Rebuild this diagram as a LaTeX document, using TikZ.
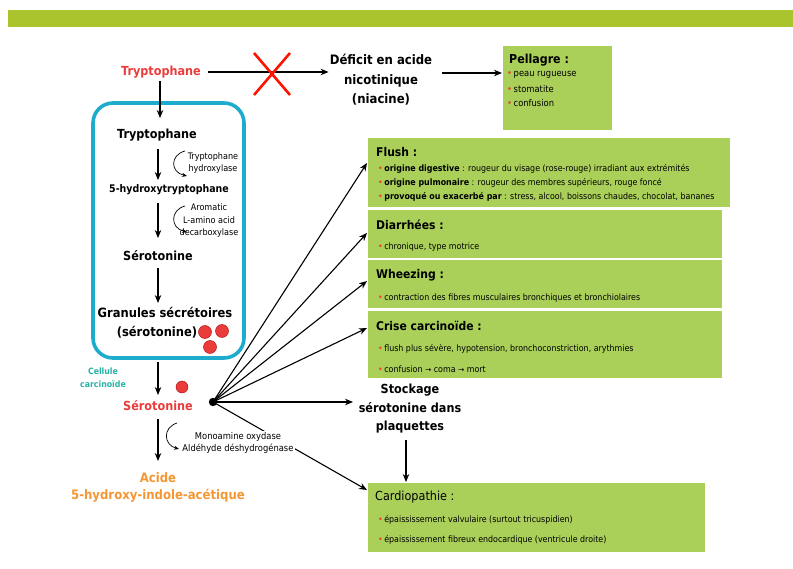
\documentclass[tikz,border=0pt]{standalone}
\usepackage{fontspec}
\setmainfont{DejaVu Sans Condensed}
\newfontfamily\arrowfont{DejaVu Sans}
\usetikzlibrary{arrows.meta}
\definecolor{banner}{RGB}{170,196,45}
\definecolor{boxgreen}{RGB}{170,208,90}
\definecolor{cellcyan}{RGB}{30,172,205}
\definecolor{tealtxt}{RGB}{40,178,165}
\definecolor{redtxt}{RGB}{235,60,60}
\definecolor{orangetxt}{RGB}{245,150,50}
\definecolor{bulletred}{RGB}{235,60,50}
\newcommand{\bl}{{\color{bulletred}\textbullet}\,}
\newcommand{\rarr}{{\arrowfont\fontsize{7.5}{9}\selectfont→}}
\tikzset{
  x=1pt, y=-1pt,
  arr/.style={-{Stealth[length=8pt,width=6.5pt]}, line width=1.1pt},
  gbox/.style={fill=boxgreen, draw=white, line width=0.6pt, inner sep=0pt, anchor=north west},
  bigtxt/.style={font=\fontsize{12.5}{15}\selectfont\bfseries, inner sep=1pt, align=center},
  smtxt/.style={font=\fontsize{9}{12.5}\selectfont, inner sep=0.5pt, align=center},
  boxtitle/.style={font=\fontsize{12}{14}\selectfont\bfseries, anchor=west, inner sep=0pt},
  boxline/.style={font=\fontsize{8.8}{10}\selectfont, anchor=west, inner sep=0pt},
  granule/.style={circle, fill=redtxt, draw=red!70!black, line width=0.4pt, minimum size=13pt, inner sep=0pt},
  curv/.style={-{Stealth[length=5pt,width=4pt]}, line width=0.7pt},
}
\begin{document}
\begin{tikzpicture}
\useasboundingbox (0,0) rectangle (793,569);
% banner
\fill[banner] (8,10) rectangle (793,27);

% top row
\node[bigtxt, text=redtxt] (trp0) at (161,72) {Tryptophane};
\node[bigtxt, font=\fontsize{13}{19.5}\selectfont\bfseries] (def) at (381,80) {Déficit en acide\\nicotinique\\(niacine)};
\node[gbox, minimum width=110pt, minimum height=85pt] (pel) at (502,45) {};
\node[boxtitle, font=\fontsize{12.3}{15}\selectfont\bfseries] (pelt) at (509,60) {Pellagre :};
\node[boxline, font=\fontsize{9.3}{11}\selectfont] (p1) at (507,75) {\bl peau rugueuse};
\node[boxline, font=\fontsize{9.3}{11}\selectfont] (p2) at (507,89) {\bl stomatite};
\node[boxline, font=\fontsize{9.3}{11}\selectfont] (p3) at (507,103) {\bl confusion};
\draw[arr] (trp0.east) ++(6,0) coordinate (a0) -- (def.west |- trp0.east);
\coordinate (xc) at (272,74);
\draw[red!85!orange, line width=2.6pt] (xc) ++(-18,-21) -- ++(36,42);
\draw[red!85!orange, line width=2.6pt] (xc) ++(18,-21) -- ++(-36,42);
\draw[arr] (442,73) coordinate (a1) -- (pel.west |- a1);

% carcinoid cell
\draw[cellcyan, line width=3.6pt, rounded corners=20pt] (93,103) rectangle (244,358);
\node[bigtxt] (trp1) at (157,135) {Tryptophane};
\node[bigtxt, font=\fontsize{10.5}{14}\selectfont\bfseries] (htp) at (169,190) {5-hydroxytryptophane};
\node[bigtxt] (ser1) at (158,256) {Sérotonine};
\node[bigtxt, font=\fontsize{12.8}{15}\selectfont\bfseries] (gran1) at (165,312) {Granules sécrétoires};
\node[bigtxt, font=\fontsize{12.8}{15}\selectfont\bfseries] (gran2) at (157,332) {(sérotonine)};
\node[granule] (g1) at (205,332) {};
\node[granule] (g2) at (222,331) {};
\node[granule] (g3) at (210,347) {};

\draw[arr] (trp0.south -| 160,0) ++(0,2) coordinate (b0) -- (160,118);
\draw[arr] (158,149) -- (158,180);
\draw[curv] (185,151) .. controls (170,155) and (170,172) .. (187,176);
\node[smtxt] (enz1) at (213,163) {Tryptophane\\hydroxylase};
\draw[arr] (158,203) -- (158,238);
\draw[curv] (185,206) .. controls (170,210) and (170,228) .. (187,232);
\node[smtxt] (enz2) at (209,221) {Aromatic\\L-amino acid\\decarboxylase};
\draw[arr] (158,268) -- (158,303);

\node[smtxt, font=\fontsize{8.7}{12.5}\selectfont\bfseries, text=tealtxt] (cell) at (103,378) {Cellule\\carcinoïde};
\draw[arr] (158,362) -- (158,395);
\node[granule, minimum size=12pt] (g4) at (182,387) {};
\node[bigtxt, text=redtxt] (ser2) at (158,406) {Sérotonine};
\fill (213,402) circle (4.2pt) coordinate (dot);
\coordinate (dotc) at (213,402);

% boxes on the right
\node[gbox, minimum width=363pt, minimum height=70pt] (flush) at (367,137) {};
\node[boxtitle] (flusht) at (376,152) {Flush :};
\node[boxline] (f1) at (378,169) {\bl\textbf{origine digestive} : rougeur du visage (rose-rouge) irradiant aux extrémités};
\node[boxline] (f2) at (378,183) {\bl\textbf{origine pulmonaire} : rougeur des membres supérieurs, rouge foncé};
\node[boxline] (f3) at (378,197) {\bl\textbf{provoqué ou exacerbé par} : stress, alcool, boissons chaudes, chocolat, bananes};

\node[gbox, minimum width=355pt, minimum height=49pt] (diar) at (367,209) {};
\node[boxtitle] (diart) at (376,225) {Diarrhées :};
\node[boxline] (d1) at (378,247) {\bl chronique, type motrice};

\node[gbox, minimum width=355pt, minimum height=49pt] (whee) at (367,259) {};
\node[boxtitle] (wheet) at (376,275) {Wheezing :};
\node[boxline] (w1) at (378,298) {\bl contraction des fibres musculaires bronchiques et bronchiolaires};

\node[gbox, minimum width=355pt, minimum height=68pt] (crise) at (367,310) {};
\node[boxtitle] (criset) at (376,326) {Crise carcinoïde :};
\node[boxline] (c1) at (378,349) {\bl flush plus sévère, hypotension, bronchoconstriction, arythmies};
\node[boxline] (c2) at (378,369) {\bl confusion \rarr{} coma \rarr{} mort};

\node[bigtxt, font=\fontsize{12.5}{18.5}\selectfont\bfseries] (stock) at (410,409) {Stockage\\sérotonine dans\\plaquettes};

\node[gbox, minimum width=338pt, minimum height=70pt] (card) at (367,482) {};
\node[boxtitle, font=\fontsize{12.5}{15}\selectfont] (cardt) at (375,497) {Cardiopathie :};
\node[boxline] (k1) at (378,520) {\bl épaississement valvulaire (surtout tricuspidien)};
\node[boxline] (k2) at (378,540) {\bl épaississement fibreux endocardique (ventricule droite)};

% arrows from dot
\draw[arr] (dotc) -- (flush.west |- 0,163);
\draw[arr] (dotc) -- (diar.west |- 0,233);
\draw[arr] (dotc) -- (whee.west |- 0,281);
\draw[arr] (dotc) -- (crise.west |- 0,328);
\draw[arr] (dotc) -- (353,402) coordinate (st);
\draw[arr] (dotc) -- (card.west |- 0,490);
\draw[arr] (406,440) -- (card.north -| 406,0);

% enzyme label over line
\node[smtxt, fill=white, inner sep=1pt, font=\fontsize{9.3}{12.5}\selectfont] (enz3) at (238,443) {Monoamine oxydase\\Aldéhyde déshydrogénase};
\draw[curv] (177,423) .. controls (162,428) and (164,445) .. (179,449);
\draw[arr] (158,419) -- (158,461);
\node[bigtxt, text=orangetxt, font=\fontsize{13}{17}\selectfont\bfseries] (acid) at (158,487) {Acide\\5-hydroxy-indole-acétique};
\end{tikzpicture}
\end{document}
